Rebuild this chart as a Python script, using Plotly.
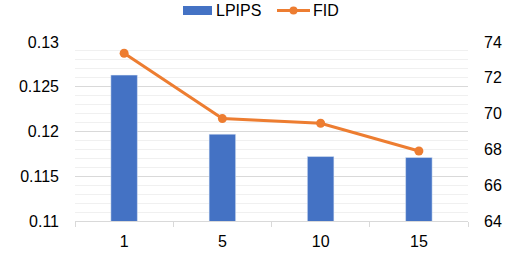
import plotly.graph_objects as go

categories = ["1", "5", "10", "15"]
lpips = [0.1263, 0.1197, 0.1172, 0.1171]
fid = [73.37, 69.72, 69.46, 67.91]

BLUE = "#4472C4"
ORANGE = "#ED7D31"
L, R, T, B = 75, 50, 42, 33
W, H = 518, 254
PW, PH = W - L - R, H - T - B


def px(xp):
    return (xp - L) / PW


def py(yp):
    return (H - B - yp) / PH


fig = go.Figure()
fig.add_trace(go.Bar(x=categories, y=lpips, name="LPIPS", marker=dict(color=BLUE),
                     width=0.27, yaxis="y"))
fig.add_trace(go.Scatter(x=categories, y=fid, name="FID", mode="lines+markers",
                         line=dict(color=ORANGE, width=3),
                         marker=dict(color=ORANGE, size=9), yaxis="y2"))

font = dict(family="Liberation Sans, Arial, sans-serif", size=16, color="#000000")

shapes = [
    dict(type="rect", xref="paper", yref="paper", x0=px(183), x1=px(212), y0=py(15), y1=py(6),
         fillcolor=BLUE, line=dict(width=0)),
    dict(type="line", xref="paper", yref="paper", x0=px(277), x1=px(310), y0=py(10.5), y1=py(10.5),
         line=dict(color=ORANGE, width=3)),
    dict(type="circle", xref="paper", yref="paper", x0=px(289.5), x1=px(297.5), y0=py(14.5), y1=py(6.5),
         fillcolor=ORANGE, line=dict(width=0)),
]
annotations = [
    dict(text="LPIPS", xref="paper", yref="paper", x=px(214), y=py(10.5), xanchor="left",
         yanchor="middle", showarrow=False, font=font),
    dict(text="FID", xref="paper", yref="paper", x=px(311), y=py(10.5), xanchor="left",
         yanchor="middle", showarrow=False, font=font),
]

fig.update_layout(
    width=W, height=H,
    margin=dict(l=L, r=R, t=T, b=B, autoexpand=False),
    paper_bgcolor="white", plot_bgcolor="white",
    font=font,
    showlegend=False,
    hovermode=False,
    shapes=shapes,
    annotations=annotations,
    xaxis=dict(type="category", showline=True, linecolor="#d9d9d9", linewidth=1,
               ticks="outside", tickson="boundaries", ticklen=5, tickcolor="#d9d9d9",
               showgrid=False, tickfont=font, ticklabelstandoff=6),
    yaxis=dict(range=[0.11, 0.13], tickvals=[0.11, 0.115, 0.12, 0.125, 0.13],
               ticktext=["0.11", "0.115", "0.12", "0.125", "0.13"],
               showgrid=True, gridcolor="#d9d9d9", gridwidth=1, zeroline=False,
               minor=dict(dtick=0.001, showgrid=True, gridcolor="#f0f0f0", gridwidth=1),
               ticks="", ticklabelstandoff=15, tickfont=font),
    yaxis2=dict(range=[64, 74], dtick=2, overlaying="y", side="right", showgrid=False,
                zeroline=False, ticks="", ticklabelstandoff=15, tickfont=font),
)
fig.write_html("out.html", config={"displayModeBar": False, "staticPlot": True},
               post_script="document.body.style.margin='0px';document.body.style.padding='0px';")
